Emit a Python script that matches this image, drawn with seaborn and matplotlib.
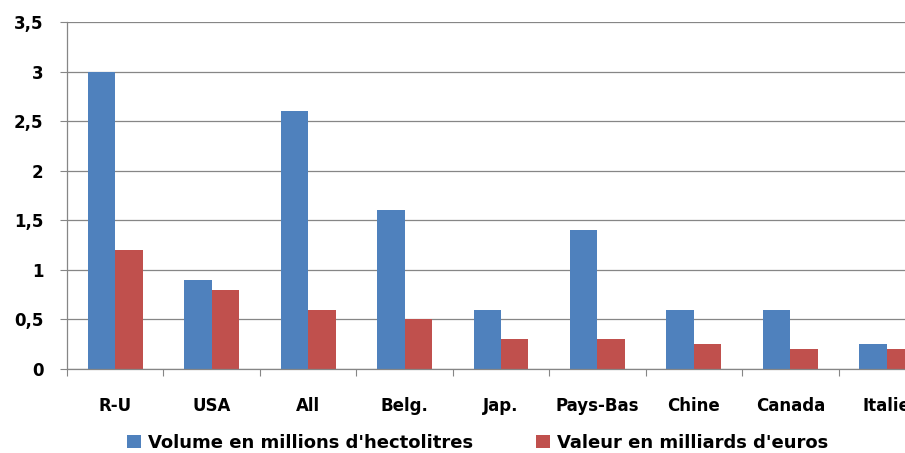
import numpy as np
import pandas as pd
import matplotlib
matplotlib.use("Agg")
import matplotlib.pyplot as plt
import seaborn as sns

# valeurs
pays = ["R-U", "USA", "All", "Belg.", "Jap.", "Pays-Bas", "Chine", "Canada", "Italie"]
volume = [3.0, 0.9, 2.6, 1.6, 0.6, 1.4, 0.6, 0.6, 0.25]
valeur = [1.2, 0.8, 0.6, 0.5, 0.3, 0.3, 0.25, 0.2, 0.2]
series = ["Volume en millions d'hectolitres", "Valeur en milliards d'euros"]
y_ticks = [0, 0.5, 1, 1.5, 2, 2.5, 3, 3.5]
y_labels = ["0", "0,5", "1", "1,5", "2", "2,5", "3", "3,5"]

df = pd.DataFrame({
    "pays": pays * 2,
    "serie": [series[0]] * len(pays) + [series[1]] * len(pays),
    "val": volume + valeur,
})

sns.set_style("white")
plt.rcParams["font.family"] = ["DejaVu Sans"]
plt.rcParams["text.color"] = "black"
plt.rcParams["xtick.color"] = "black"
plt.rcParams["ytick.color"] = "black"

fig = plt.figure(figsize=(9.05, 4.53), dpi=100)
# l'axe depasse a droite comme sur l'original (Italie coupee)
ax = fig.add_axes([67 / 905, 84 / 453, 868 / 905, 347 / 453])

sns.barplot(data=df, x="pays", y="val", hue="serie", order=pays,
            palette=["#4F81BD", "#C0504D"], width=0.57, saturation=1,
            edgecolor="none", ax=ax, legend=True)

fs = 12
ax.set_xlim(-0.5, len(pays) - 0.5)
ax.set_ylim(0, 3.5)
ax.set_yticks(y_ticks)
ax.set_yticklabels(y_labels, fontsize=fs, fontweight="bold")
ax.set_xticks(range(len(pays)))
ax.set_xticklabels(pays, fontsize=fs, fontweight="bold")
ax.set_xticks(np.arange(-0.5, len(pays), 1), minor=True)
ax.tick_params(axis="x", which="major", bottom=True, length=0, pad=20)
ax.tick_params(axis="x", which="minor", bottom=True, length=5, width=0.8,
               color="#868686", direction="out")
ax.tick_params(axis="y", left=True, length=5, width=0.8, color="#868686",
               labelcolor="black", pad=12, direction="out")
ax.set_xlabel("")
ax.set_ylabel("")

ax.yaxis.grid(True, color="#868686", linewidth=0.9)
ax.set_axisbelow(True)
for s in ["top", "right"]:
    ax.spines[s].set_visible(False)
for s in ["left", "bottom"]:
    ax.spines[s].set_color("#868686")
    ax.spines[s].set_linewidth(0.9)

handles, labels = ax.get_legend_handles_labels()
ax.get_legend().remove()
fig.legend(handles, labels, loc="center", bbox_to_anchor=(0.528, 0.022), ncol=2,
           frameon=False, handlelength=0.75, handleheight=0.75, handletextpad=0.4,
           columnspacing=3.5, borderpad=0, prop={"size": 13, "weight": "bold"})

fig.savefig("out.png", dpi=100)
